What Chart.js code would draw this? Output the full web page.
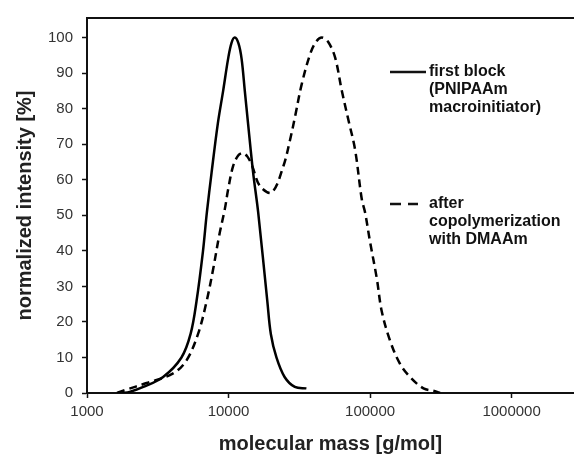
<!DOCTYPE html>
<html>
<head>
<meta charset="utf-8">
<script src="https://cdn.jsdelivr.net/npm/chart.js@4"></script>
<style>
  html, body { margin: 0; padding: 0; background: #fff; }
  #wrap { width: 574px; height: 458px; position: relative; }
</style>
</head>
<body>
<div id="wrap"><canvas id="gpcChart"></canvas></div>
<script>
// molecular mass [g/mol] and normalized intensity [%]
const firstBlockMass = [1770, 2000, 2500, 3450, 4650, 5400, 5940, 6590, 7030, 7590, 8400, 9160, 9930,
    10500, 11070, 11770, 12370, 13030, 13740, 14920, 16200, 18800, 19900, 21800, 24900, 29400, 35500];
const firstBlockIntensity = [0, 0.3, 1.7, 4.5, 10, 16.7, 25.8, 39.7, 50.8, 62, 75.8, 85, 94,
    98.5, 100, 98.3, 94, 85, 75.8, 62, 50.8, 25.8, 16.6, 10, 4.5, 1.7, 1.3];

const copolymerMass = [1630, 1850, 2640, 4060, 5050, 6100, 7000, 7800, 8600, 9420, 9940, 10770,
    11700, 12650, 13600, 14650, 16700, 20200, 24400, 27200, 29500, 32900, 37700, 41500, 45600, 50500,
    56600, 63100, 70300, 78400, 87400, 92200, 100000, 111500, 120900, 138500, 162800, 191700, 238300,
    287900, 312400];
const copolymerIntensity = [0, 0.8, 2.8, 5.5, 9.2, 16.7, 25.8, 35, 44.4, 51.8, 57.3, 63.8,
    66.8, 67.5, 66.5, 64, 58.2, 56.4, 63.8, 71.2, 77.7, 86.9, 95.3, 98.8, 100, 98.8,
    94.4, 85.1, 76.8, 68.4, 54.5, 50.8, 42.5, 32.3, 23, 14.7, 8.2, 4.5, 1.3,
    0.5, 0];

const xTicks = [1000, 10000, 100000, 1000000];
const yTicks = [0, 10, 20, 30, 40, 50, 60, 70, 80, 90, 100];

const legendFirst = ['first block', '(PNIPAAm', 'macroinitiator)'];
const legendCopolymer = ['after', 'copolymerization', 'with DMAAm'];

function toPoints(xs, ys) {
    return xs.map((x, i) => ({ x: x, y: ys[i] }));
}

// top frame line + legend written inside the plot
const framePlugin = {
    id: 'framePlugin',
    afterDraw(chart) {
        const ctx = chart.ctx;
        const area = chart.chartArea;
        ctx.save();
        ctx.strokeStyle = '#111';
        ctx.lineWidth = 2;
        ctx.beginPath();
        ctx.moveTo(area.left, area.top);
        ctx.lineTo(area.right, area.top);
        ctx.stroke();

        ctx.font = 'bold 16px "Liberation Sans", Arial, sans-serif';
        ctx.fillStyle = '#111';
        ctx.textBaseline = 'middle';
        ctx.lineWidth = 2.5;

        ctx.beginPath();
        ctx.setLineDash([]);
        ctx.moveTo(390, 72);
        ctx.lineTo(426, 72);
        ctx.stroke();
        legendFirst.forEach((t, i) => ctx.fillText(t, 429, 72 + i * 18));

        ctx.beginPath();
        ctx.setLineDash([11, 7]);
        ctx.moveTo(390, 204);
        ctx.lineTo(418, 204);
        ctx.stroke();
        ctx.setLineDash([]);
        legendCopolymer.forEach((t, i) => ctx.fillText(t, 429, 204 + i * 18));
        ctx.restore();
    }
};

const ctx = document.getElementById('gpcChart').getContext('2d');
const gpcChart = new Chart(ctx, {
    type: 'line',
    data: {
        datasets: [
            {
                label: 'first block (PNIPAAm macroinitiator)',
                data: toPoints(firstBlockMass, firstBlockIntensity),
                borderColor: '#000',
                borderWidth: 2.5,
                pointRadius: 0,
                tension: 0.35,
                fill: false
            },
            {
                label: 'after copolymerization with DMAAm',
                data: toPoints(copolymerMass, copolymerIntensity),
                borderColor: '#000',
                borderWidth: 2.5,
                borderDash: [8, 5],
                pointRadius: 0,
                tension: 0.35,
                fill: false
            }
        ]
    },
    options: {
        responsive: true,
        maintainAspectRatio: false,
        animation: false,
        layout: { padding: { top: 13, left: 0, right: 0, bottom: 0 } },
        plugins: {
            legend: { display: false },
            tooltip: { enabled: false }
        },
        scales: {
            x: {
                type: 'logarithmic',
                min: 1000,
                max: 2760000,
                afterBuildTicks: (scale) => {
                    scale.ticks = xTicks.map(v => ({ value: v }));
                },
                afterFit: (scale) => { scale.height = 65; },
                grid: {
                    drawOnChartArea: false,
                    drawTicks: true,
                    tickLength: 5,
                    tickWidth: 1.5,
                    tickColor: '#111'
                },
                border: { color: '#111', width: 2 },
                ticks: {
                    color: '#333',
                    padding: 5,
                    maxRotation: 0,
                    autoSkip: false,
                    font: { family: '"Liberation Sans", Arial, sans-serif', size: 15 },
                    callback: (value) => String(value)
                },
                title: {
                    display: true,
                    text: 'molecular mass [g/mol]',
                    color: '#222',
                    padding: { top: 2, bottom: 2 },
                    font: { family: '"Liberation Sans", Arial, sans-serif', size: 20, weight: 'bold' }
                }
            },
            y: {
                min: 0,
                max: 105.5,
                afterBuildTicks: (scale) => {
                    scale.ticks = yTicks.map(v => ({ value: v }));
                },
                afterFit: (scale) => { scale.width = 87; },
                grid: {
                    drawOnChartArea: false,
                    drawTicks: true,
                    tickLength: 5,
                    tickWidth: 1.5,
                    tickColor: '#111'
                },
                border: { color: '#111', width: 2 },
                ticks: {
                    color: '#333',
                    padding: 9,
                    font: { family: '"Liberation Sans", Arial, sans-serif', size: 15 }
                },
                title: {
                    display: true,
                    text: 'normalized intensity [%]',
                    color: '#222',
                    padding: { top: 13, bottom: 0 },
                    font: { family: '"Liberation Sans", Arial, sans-serif', size: 20, weight: 'bold' }
                }
            }
        }
    },
    plugins: [framePlugin]
});
</script>
</body>
</html>
